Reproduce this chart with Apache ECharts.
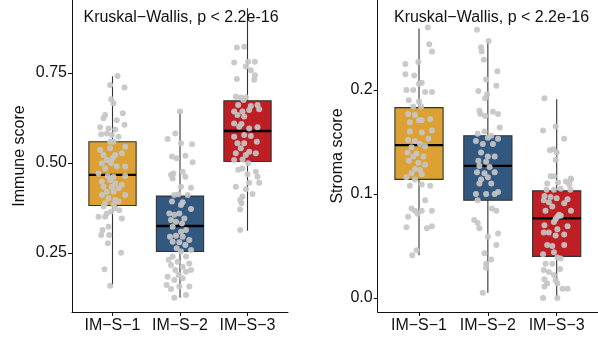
<!DOCTYPE html>
<html>
<head>
<meta charset="utf-8">
<script src="https://cdn.jsdelivr.net/npm/echarts@6/dist/echarts.min.js"></script>
<style>
  html, body { margin: 0; padding: 0; background: #fff; }
  #chart { width: 598px; height: 338px; }
</style>
</head>
<body>
<div id="chart"></div>
<script>
// Immune-subtype groups
const categories = ['IM\u2212S\u22121', 'IM\u2212S\u22122', 'IM\u2212S\u22123'];
const groupColors = ['#DCA033', '#33587F', '#BD1F24'];
const testLabel = 'Kruskal\u2212Wallis, p < 2.2e-16';

// Box statistics per group (whisker low, Q1, median, Q3, whisker high)
const immuneLow    = [0.160, 0.126, 0.312];
const immuneQ1     = [0.382, 0.254, 0.504];
const immuneMedian = [0.467, 0.325, 0.589];
const immuneQ3     = [0.559, 0.408, 0.673];
const immuneHigh   = [0.741, 0.643, 0.930];

const stromaLow    = [0.041, 0.005, 0.001];
const stromaQ1     = [0.114, 0.094, 0.040];
const stromaMedian = [0.147, 0.127, 0.0766];
const stromaQ3     = [0.183, 0.156, 0.103];
const stromaHigh   = [0.259, 0.246, 0.191];

// Tick values
const immuneTicks = [0.25, 0.5, 0.75];
const stromaTicks = [0.0, 0.1, 0.2];

// Individual samples: score values and horizontal jitter (in category units)
const immune1Values = [0.742,0.717,0.710,0.677,0.666,0.633,0.638,0.624,0.619,0.606,0.599,0.596,0.593,0.580,0.582,0.578,0.573,0.559,0.559,0.536,0.541,0.545,0.522,0.522,0.527,0.508,0.513,0.499,0.499,0.490,0.485,0.490,0.471,0.464,0.462,0.464,0.448,0.453,0.444,0.439,0.434,0.434,0.430,0.420,0.420,0.411,0.411,0.402,0.397,0.388,0.393,0.383,0.379,0.374,0.369,0.360,0.365,0.351,0.346,0.351,0.323,0.314,0.300,0.300,0.277,0.251,0.205,0.159];
const immune1Jitter = [0.074,-0.035,0.178,-0.020,0.015,-0.109,0.153,-0.133,0.064,0.178,-0.183,-0.059,0.040,-0.168,-0.084,-0.010,0.089,-0.035,0.015,-0.183,-0.035,0.188,-0.133,0.040,0.138,-0.084,0,-0.158,-0.020,0.064,-0.109,0.188,-0.207,-0.069,0.015,0.188,-0.158,-0.035,0.040,0.138,-0.133,-0.010,0.089,-0.084,0.015,0.188,-0.158,-0.059,0.040,-0.109,0.089,0.015,-0.133,0.040,0.099,-0.084,-0.020,-0.109,0.138,-0.207,-0.059,-0.148,-0.168,-0.049,-0.069,0.128,-0.119,-0.035];

const immune2Values = [0.643,0.582,0.567,0.555,0.552,0.518,0.513,0.520,0.502,0.467,0.471,0.476,0.462,0.457,0.434,0.431,0.411,0.413,0.411,0.393,0.391,0.383,0.372,0.360,0.356,0.360,0.346,0.342,0.337,0.332,0.323,0.314,0.309,0.295,0.298,0.295,0.286,0.281,0.280,0.272,0.263,0.258,0.254,0.240,0.240,0.231,0.226,0.221,0.217,0.212,0.203,0.198,0.203,0.189,0.184,0.180,0.175,0.161,0.157,0.157,0.150,0.133,0.126];
const immune2Jitter = [0,-0.069,-0.183,0.015,0.178,-0.119,-0.049,0.079,0.188,-0.133,-0.099,0.040,0.079,-0.109,0.015,0.163,-0.084,-0.020,0.114,-0.119,0.040,0.015,0.163,-0.158,-0.084,-0.010,0.064,-0.133,-0.059,0.030,-0.109,0.089,0.015,-0.148,-0.059,0.040,0.138,-0.109,-0.010,0.079,-0.049,0.163,0.015,-0.109,0.089,-0.168,-0.035,0.138,-0.133,0.040,-0.069,0.089,0.163,-0.020,-0.183,0.040,-0.084,-0.198,-0.010,0.138,-0.133,0.089,-0.084];

const immune3Values = [0.821,0.823,0.779,0.781,0.781,0.768,0.758,0.733,0.744,0.731,0.684,0.682,0.682,0.675,0.661,0.658,0.661,0.649,0.643,0.643,0.647,0.633,0.629,0.610,0.608,0.596,0.599,0.601,0.573,0.578,0.575,0.559,0.555,0.555,0.541,0.531,0.527,0.527,0.522,0.508,0.510,0.499,0.481,0.485,0.476,0.469,0.462,0.445,0.445,0.434,0.427,0.407,0.414,0.397,0.388,0.371,0.314];
const immune3Jitter = [-0.158,-0.049,-0.198,0.010,0.109,-0.025,0.049,-0.158,0.109,0.099,-0.173,-0.099,-0.025,-0.059,-0.138,0.049,0.148,0.173,-0.198,-0.074,0.025,-0.148,-0.049,-0.198,-0.089,0.025,0.148,-0.123,-0.198,-0.049,0.049,0.138,-0.148,-0.049,-0.099,0.025,0.123,-0.173,-0.025,-0.198,-0.074,0.010,-0.138,-0.074,0.123,0,0.148,0.025,0.173,-0.173,-0.025,-0.074,0.074,-0.109,-0.089,-0.109,-0.109];

const stroma1Values = [0.260,0.244,0.237,0.225,0.227,0.215,0.214,0.206,0.207,0.200,0.200,0.198,0.198,0.190,0.189,0.184,0.184,0.177,0.176,0.171,0.172,0.169,0.171,0.160,0.159,0.161,0.153,0.152,0.151,0.148,0.145,0.146,0.140,0.139,0.136,0.136,0.132,0.130,0.128,0.124,0.123,0.120,0.119,0.116,0.114,0.108,0.109,0.108,0.094,0.086,0.084,0.084,0.084,0.078,0.081,0.068,0.067,0.069,0.046,0.041];
const stroma1Jitter = [0.128,0.148,0.188,-0.198,-0.010,-0.198,-0.069,0,0.040,-0.183,-0.084,0.089,0.188,-0.148,0,-0.084,0.030,-0.158,-0.059,0.040,0.163,-0.133,0,-0.133,0.040,0.188,0.138,-0.158,-0.059,0.015,-0.109,0.089,-0.168,-0.035,-0.084,0.064,-0.148,-0.010,0.089,-0.059,0.015,-0.109,0.040,-0.183,-0.059,-0.133,0.040,0.163,0.089,-0.109,-0.059,0.040,0.188,-0.158,-0.020,-0.183,0.114,0.188,-0.035,-0.099];

const stroma2Values = [0.258,0.247,0.241,0.237,0.229,0.218,0.210,0.204,0.199,0.196,0.192,0.180,0.179,0.177,0.177,0.175,0.164,0.160,0.158,0.156,0.153,0.151,0.154,0.148,0.148,0.140,0.136,0.136,0.132,0.131,0.127,0.126,0.121,0.120,0.121,0.116,0.114,0.110,0.110,0.102,0.100,0.100,0.100,0.094,0.086,0.084,0.075,0.072,0.067,0.062,0.059,0.051,0.043,0.037,0.033,0.029,0.005];
const stroma2Jitter = [-0.158,0.010,-0.099,-0.089,-0.059,0.138,-0.025,0.123,-0.138,-0.010,-0.040,-0.123,0.074,0.148,-0.109,-0.040,0.173,-0.049,-0.148,0.049,0.148,-0.173,0,-0.074,0.074,-0.099,0,0.099,-0.138,-0.025,-0.123,0.025,-0.158,-0.049,0.099,0,-0.099,0.049,-0.123,0.148,-0.173,-0.025,0.099,-0.148,0.059,0.123,-0.198,-0.148,-0.123,0.148,0,0.123,-0.049,0.049,-0.025,-0.025,-0.074];

const stroma3Values = [0.192,0.161,0.165,0.153,0.142,0.143,0.140,0.133,0.117,0.117,0.110,0.111,0.112,0.115,0.114,0.109,0.104,0.104,0.105,0.104,0.098,0.097,0.096,0.095,0.094,0.092,0.088,0.091,0.084,0.080,0.084,0.076,0.078,0.079,0.073,0.069,0.070,0.066,0.063,0.063,0.060,0.061,0.051,0.050,0.051,0.042,0.044,0.039,0.033,0.033,0.038,0.027,0.025,0.028,0.022,0.018,0.017,0.014,0.014,0.011,0.009,0.009,0.000,0.000];
const stroma3Jitter = [-0.178,-0.198,-0.015,0.109,-0.099,-0.049,0,-0.015,-0.089,-0.040,-0.138,0.020,0.133,0.207,0.21,0.183,-0.148,-0.040,0.059,0.198,-0.178,-0.089,0,0.158,-0.188,-0.114,-0.064,0.109,-0.163,0.035,0.207,-0.015,0.010,0.059,-0.040,0.158,-0.178,0.010,-0.188,-0.114,-0.015,0.109,-0.138,-0.064,0.109,-0.198,-0.040,0.010,-0.163,-0.064,0.059,-0.188,-0.114,0.049,-0.040,-0.178,-0.015,-0.138,0.010,-0.178,0.084,0.158,-0.198,0.010];

// ---- build options ----
const FONT = '"Liberation Sans", Arial, Helvetica, sans-serif';
const TEXT = '#111';
const BOX_WIDTH = 0.7;

function boxRows(low, q1, med, q3, high) {
  return categories.map((c, i) => [i + 1, low[i], q1[i], med[i], q3[i], high[i]]);
}

function jitterRows(groups) {
  const rows = [];
  groups.forEach(([vals, jit], g) => {
    vals.forEach((v, i) => rows.push([g + 1 + jit[i], v]));
  });
  return rows;
}

function renderBox(params, api) {
  const x = api.value(0);
  const pLo = api.coord([x, api.value(1)]);
  const pQ1 = api.coord([x, api.value(2)]);
  const pMed = api.coord([x, api.value(3)]);
  const pQ3 = api.coord([x, api.value(4)]);
  const pHi = api.coord([x, api.value(5)]);
  const half = api.size([BOX_WIDTH, 0])[0] / 2;
  const cx = pMed[0];
  return {
    type: 'group',
    children: [
      { type: 'line', shape: { x1: cx, y1: pHi[1], x2: cx, y2: pLo[1] },
        style: { stroke: '#333', lineWidth: 1.1 } },
      { type: 'rect', shape: { x: cx - half, y: pQ3[1], width: 2 * half, height: pQ1[1] - pQ3[1] },
        style: { fill: groupColors[params.dataIndex], stroke: '#333', lineWidth: 1.1 } },
      { type: 'line', shape: { x1: cx - half, y1: pMed[1], x2: cx + half, y2: pMed[1] },
        style: { stroke: '#000', lineWidth: 2.4 } }
    ]
  };
}

function xAxisFor(gridIndex) {
  return {
    type: 'value', gridIndex, min: 0.4, max: 3.6,
    splitLine: { show: false },
    axisLine: { show: true, onZero: false, lineStyle: { color: '#111', width: 1 } },
    axisTick: { show: true, length: 4, customValues: [1, 2, 3], lineStyle: { color: '#111' } },
    axisLabel: {
      customValues: [1, 2, 3], margin: 6,
      formatter: v => categories[Math.round(v) - 1],
      color: TEXT, fontSize: 16, fontFamily: FONT
    }
  };
}

function yAxisFor(gridIndex, min, max, ticks, digits, name, gap) {
  return {
    type: 'value', gridIndex, min, max,
    name, nameLocation: 'middle', nameGap: gap, nameRotate: 90,
    nameTextStyle: { color: TEXT, fontSize: 16, fontFamily: FONT },
    splitLine: { show: false },
    axisLine: { show: true, onZero: false, lineStyle: { color: '#111', width: 1 } },
    axisTick: { show: true, length: 4, customValues: ticks, lineStyle: { color: '#111' } },
    axisLabel: {
      customValues: ticks, margin: 5,
      formatter: v => v.toFixed(digits),
      color: TEXT, fontSize: 16, fontFamily: FONT
    }
  };
}

const pointStyle = { color: '#c6c6c6', opacity: 0.92 };

const option = {
  animation: false,
  grid: [
    { left: 72, top: 0, width: 216, height: 312 },
    { left: 377.7, top: 0, width: 221, height: 312 }
  ],
  xAxis: [xAxisFor(0), xAxisFor(1)],
  yAxis: [
    yAxisFor(0, 0.0861, 0.9528, immuneTicks, 2, 'Immune score', 44),
    yAxisFor(1, -0.01346, 0.2865, stromaTicks, 1, 'Stroma score', 32)
  ],
  series: [
    { type: 'custom', xAxisIndex: 0, yAxisIndex: 0, renderItem: renderBox,
      data: boxRows(immuneLow, immuneQ1, immuneMedian, immuneQ3, immuneHigh), z: 2 },
    { type: 'scatter', xAxisIndex: 0, yAxisIndex: 0, symbolSize: 6, itemStyle: pointStyle, z: 3,
      data: jitterRows([[immune1Values, immune1Jitter], [immune2Values, immune2Jitter], [immune3Values, immune3Jitter]]) },
    { type: 'custom', xAxisIndex: 1, yAxisIndex: 1, renderItem: renderBox,
      data: boxRows(stromaLow, stromaQ1, stromaMedian, stromaQ3, stromaHigh), z: 2 },
    { type: 'scatter', xAxisIndex: 1, yAxisIndex: 1, symbolSize: 6, itemStyle: pointStyle, z: 3,
      data: jitterRows([[stroma1Values, stroma1Jitter], [stroma2Values, stroma2Jitter], [stroma3Values, stroma3Jitter]]) }
  ],
  graphic: [
    { type: 'text', x: 181, y: 18, z: 10,
      style: { text: testLabel, fill: TEXT, font: '16px ' + FONT, textAlign: 'center', textVerticalAlign: 'middle' } },
    { type: 'text', x: 491.5, y: 18, z: 10,
      style: { text: testLabel, fill: TEXT, font: '16px ' + FONT, textAlign: 'center', textVerticalAlign: 'middle' } }
  ]
};

const chart = echarts.init(document.getElementById('chart'), null, { renderer: 'canvas' });
chart.setOption(option);
</script>
</body>
</html>
